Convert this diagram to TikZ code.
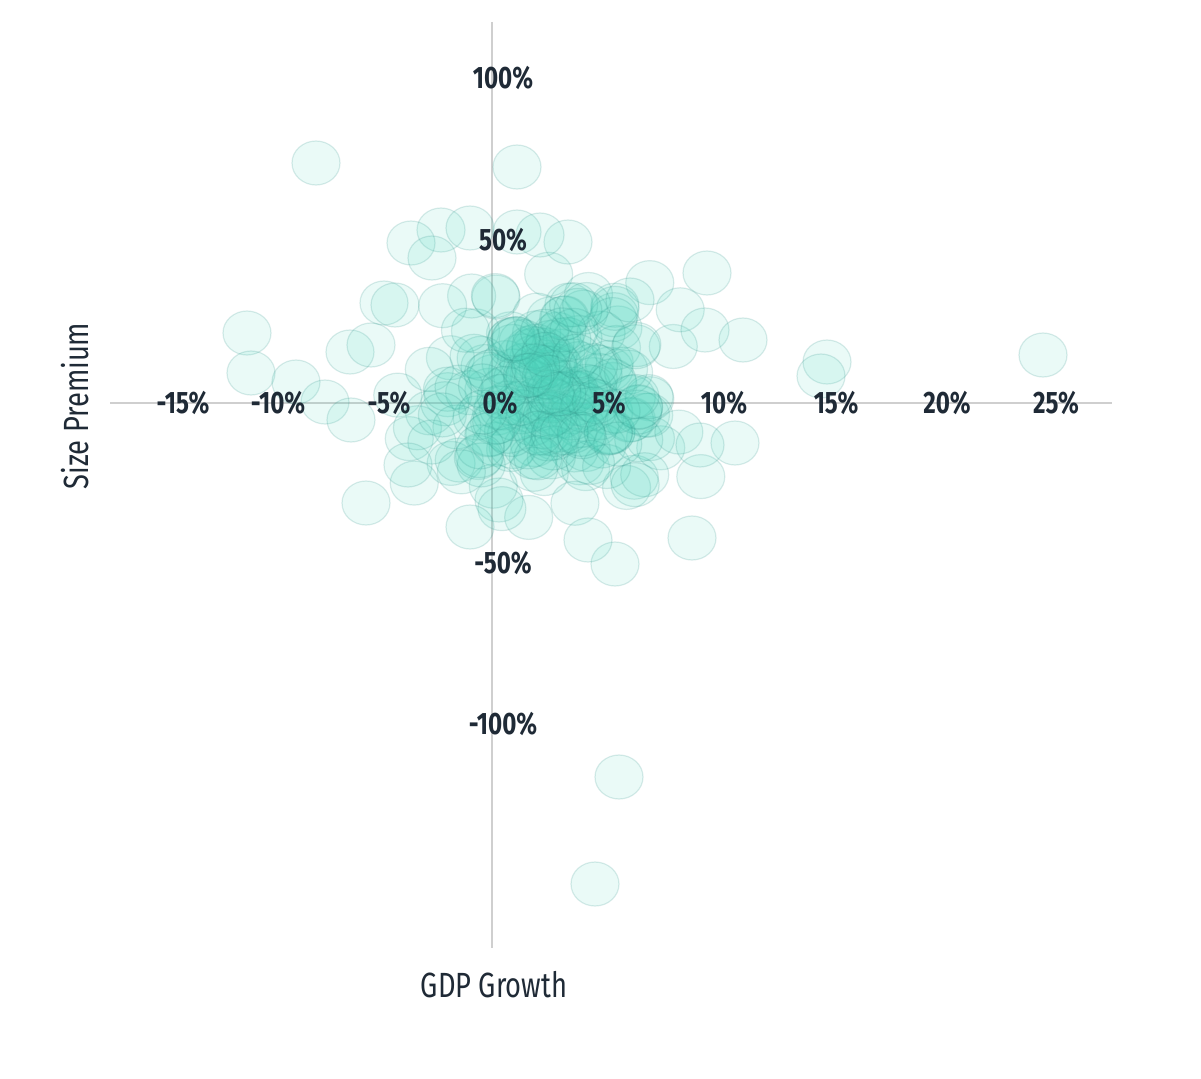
\documentclass[tikz,border=0pt]{standalone}
\usepackage{fontspec}
\setmainfont{Fira Sans}[FakeStretch=0.78]
\usepackage{xcolor}
\definecolor{ink}{HTML}{1F2A36}
\definecolor{teal}{HTML}{4FD6BE}
\definecolor{edge}{HTML}{2E8F86}
\definecolor{axisgray}{HTML}{CFCFCF}
\tikzset{
  bubble/.style={fill=teal, fill opacity=0.12, draw=edge, draw opacity=0.18, line width=1.2pt},
  ticklabel/.style={font=\fontsize{31}{32}\selectfont\bfseries, text=ink},
  axistitle/.style={font=\fontsize{35}{36}\selectfont, text=ink}
}
\begin{document}
\begin{tikzpicture}[x=1pt,y=-1pt]

    % Frame
    \useasboundingbox (0,0) rectangle (1201,1078);

    % Axes
    \coordinate (L) at (110,403);
    \coordinate (R) at (1112,403);
    \coordinate (T) at (492,22);
    \coordinate (B) at (492,948);
    \draw[axisgray, line width=1.5pt] (L) -- (R);
    \draw[axisgray, line width=1.5pt] (T) -- (B);

    % Cluster
    \pgfmathsetseed{11}
    \foreach \i in {1,...,230} {
      \pgfmathsetmacro{\px}{545+58*(rand+rand+rand)}
      \pgfmathsetmacro{\py}{400+50*(rand+rand+rand)}
      \path[bubble] (\px,\py) ellipse (24 and 22);
    }

    % Outliers
    \foreach \px/\py in {316/163, 517/167, 247/333, 251/373, 296/382, 325/402,
      366/503, 441/230, 411/243, 707/273, 1043/355, 827/362, 821/376, 735/443,
      692/538, 619/777, 595/884, 615/564, 470/527, 351/420, 705/330, 743/340,
      568/242, 517/232, 540/235, 384/303, 432/258, 350/352, 408/465, 588/540,
      371/345, 395/305, 700/445, 470/228, 630/300}
      \path[bubble] (\px,\py) ellipse (24 and 22);

    % Tick labels
    \foreach \lx/\lab in {183/-15\%, 278/-10\%, 389/-5\%, 500/0\%, 609/5\%,
      724/10\%, 836/15\%, 947/20\%, 1056/25\%}
      \node[ticklabel] (x\lx) at (\lx,403) {\lab};
    \foreach \ly/\lab in {78/100\%, 240/50\%, 563/-50\%, 724/-100\%}
      \node[ticklabel] (y\ly) at (503,\ly) {\lab};

    % Titles
    \node[axistitle] (xtitle) at (494,985) {GDP Growth};
    \node[axistitle, rotate=90] (ytitle) at (75,406) {Size Premium};

\end{tikzpicture}
\end{document}
